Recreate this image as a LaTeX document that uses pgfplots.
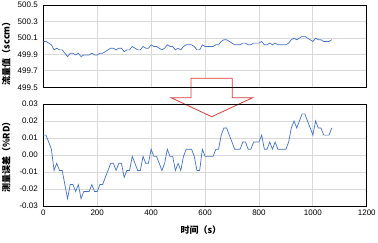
\documentclass[border=0pt]{standalone}
\usepackage{pgfplots}
\pgfplotsset{compat=1.18}
\usepackage{pgfplotstable}
\usepackage{fontspec}
\setmainfont{Liberation Sans}
\newfontfamily\cjk{Noto Sans CJK SC}
\definecolor{series}{RGB}{68,114,196}
\definecolor{gridc}{RGB}{217,217,217}
\definecolor{arrowred}{RGB}{218,60,60}

\pgfplotstableread{
t flow err
0 500.057 0.0117
10 500.057 0.0117
20 500.037 0.0076
30 500.016 0.0034
40 499.955 -0.0091
50 499.975 -0.0049
60 499.955 -0.0091
70 499.955 -0.0091
80 499.914 -0.0174
90 499.873 -0.0257
100 499.914 -0.0174
110 499.914 -0.0174
120 499.893 -0.0215
130 499.914 -0.0174
140 499.873 -0.0257
150 499.893 -0.0215
160 499.893 -0.0215
170 499.893 -0.0215
180 499.914 -0.0174
190 499.893 -0.0215
200 499.893 -0.0215
210 499.914 -0.0174
220 499.914 -0.0174
230 499.934 -0.0132
240 499.955 -0.0091
250 499.975 -0.0049
260 499.975 -0.0049
270 499.955 -0.0091
280 499.975 -0.0049
290 499.975 -0.0049
300 499.934 -0.0132
310 499.955 -0.0091
320 499.955 -0.0091
330 499.996 -0.0008
340 499.975 -0.0049
350 499.955 -0.0091
360 499.955 -0.0091
370 499.996 -0.0008
380 499.975 -0.0049
390 499.975 -0.0049
400 500.016 0.0034
410 499.996 -0.0008
420 499.996 -0.0008
430 499.975 -0.0049
440 499.955 -0.0091
450 499.975 -0.0049
460 500.016 0.0034
470 499.996 -0.0008
480 499.996 -0.0008
490 499.955 -0.0091
500 499.975 -0.0049
510 499.955 -0.0091
520 499.996 -0.0008
530 500.016 0.0034
540 500.016 0.0034
550 500.016 0.0034
560 499.996 -0.0008
570 499.955 -0.0091
580 499.955 -0.0091
590 500.016 0.0034
600 499.996 -0.0008
610 499.996 -0.0008
620 499.996 -0.0008
630 499.996 -0.0008
640 500.016 0.0034
650 500.016 0.0034
660 500.057 0.0117
670 500.078 0.0159
680 500.078 0.0159
690 500.057 0.0117
700 500.037 0.0076
710 500.016 0.0034
720 500.016 0.0034
730 500.016 0.0034
740 500.037 0.0076
750 500.037 0.0076
760 500.016 0.0034
770 500.016 0.0034
780 500.037 0.0076
790 500.037 0.0076
800 500.037 0.0076
810 500.057 0.0117
820 500.016 0.0034
830 500.016 0.0034
840 500.037 0.0076
850 500.016 0.0034
860 500.037 0.0076
870 500.016 0.0034
880 500.016 0.0034
890 500.016 0.0034
900 500.016 0.0034
910 500.037 0.0076
920 500.078 0.0159
930 500.098 0.0200
940 500.078 0.0159
950 500.098 0.0200
960 500.119 0.0242
970 500.119 0.0242
980 500.098 0.0200
990 500.078 0.0159
1000 500.057 0.0117
1010 500.098 0.0200
1020 500.078 0.0159
1030 500.078 0.0159
1040 500.057 0.0117
1050 500.057 0.0117
1060 500.057 0.0117
1070 500.078 0.0159
}\data

\begin{document}
\begin{tikzpicture}
\useasboundingbox (0pt,0pt) rectangle (378pt,242pt);
\pgfplotsset{common/.style={
  scale only axis, width=323.5pt,
  xmin=0, xmax=1200, xtick={0,200,400,600,800,1000,1200},
  grid=major, major grid style={gridc, line width=0.8pt},
  major tick length=0pt,
  axis line style={black, line width=0.8pt},
  tick label style={font=\fontsize{8}{9}\selectfont},
  /pgf/number format/assume math mode=true,
  /pgf/number format/1000 sep={},
  xticklabel style={/pgf/number format/precision=0},
  scaled y ticks=false,
  label style={font=\cjk\bfseries\fontsize{9}{10}\selectfont},
  yticklabel style={xshift=-2pt, /pgf/number format/fixed, /pgf/number format/fixed zerofill},
}}
\begin{axis}[common, name=top, at={(43.3pt,154.7pt)}, anchor=south west,
  height=82.3pt, ymin=499.5, ymax=500.5,
  ytick={499.5,499.7,499.9,500.1,500.3,500.5},
  xticklabels={},
  yticklabel style={/pgf/number format/precision=1},
  ylabel={流量值（sccm）},
  ylabel style={at={(axis description cs:-0.115,0.44)}, anchor=center},
]
\addplot[series, line width=0.7pt] table[x=t, y=flow]{\data};
\end{axis}
\begin{axis}[common, name=bot, at={(43.3pt,36pt)}, anchor=south west,
  height=102pt, ymin=-0.03, ymax=0.03,
  ytick={-0.03,-0.02,-0.01,0,0.01,0.02,0.03},
  yticklabel style={/pgf/number format/precision=2},
  ylabel={测量误差（\%RD）},
  ylabel style={at={(axis description cs:-0.115,0.5)}, anchor=center},
  xlabel={时间（s）},
  xlabel style={at={(axis description cs:0.487,0)}, anchor=center, yshift=-24.5pt},
]
\addplot[series, line width=0.7pt] table[x=t, y=err]{\data};
\end{axis}
\draw[arrowred, line width=0.8pt, fill=white] (191pt,163.7pt) -- (232.3pt,163.7pt) -- (232.3pt,144.3pt) -- (252.7pt,144.3pt) -- (211.7pt,125.3pt) -- (171pt,144.3pt) -- (191pt,144.3pt) -- cycle;
\draw[black, line width=0.8pt] (top.south west) -- (top.south east);
\draw[black, line width=0.8pt] (bot.north west) -- (bot.north east);
\end{tikzpicture}
\end{document}
